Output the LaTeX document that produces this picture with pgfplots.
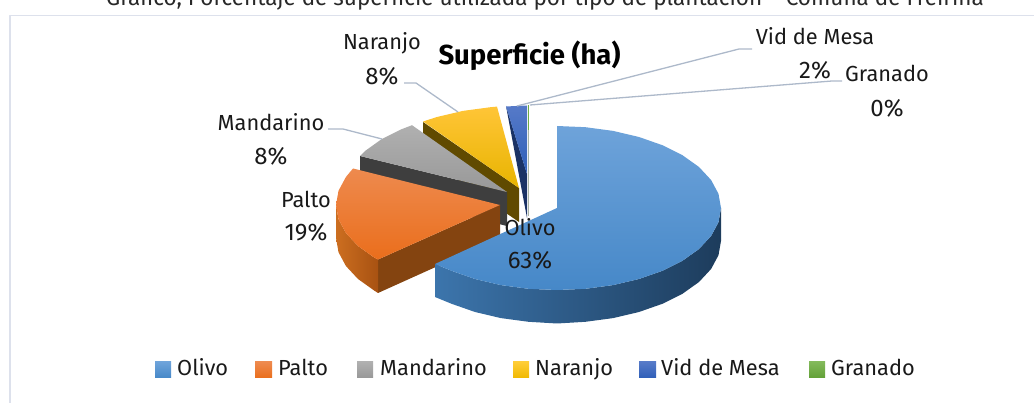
\documentclass[border=0pt]{standalone}
\usepackage{fontspec}
\setmainfont{Fira Sans}
\usepackage{pgfplots}
\pgfplotsset{compat=1.18}
\definecolor{lead}{HTML}{ADB9CA}
\definecolor{frame}{HTML}{DDE1EC}
\begin{document}
\begin{tikzpicture}
\begin{axis}[at={(0pt,0pt)},anchor=south west,scale only axis,width=1034pt,height=403pt,
 xmin=0,xmax=1034,ymin=0,ymax=403,y dir=reverse,axis lines=none,clip=false,
 every axis plot/.append style={mark=none,draw=none,line join=round}]
% frame
\addplot[draw=frame,line width=1.8pt] coordinates {(10,403)(10,15.5)(1034,15.5)};
% Granado
\addplot[draw={rgb,255:red,170;green,180;blue,165},line width=1pt] coordinates {(528,105)(528,216)};
\addplot[draw={rgb,255:red,112;green,173;blue,71},line width=.8pt] coordinates {(528,105)(528,130)};
% Vid de Mesa
\addplot[fill={rgb,255:red,26;green,50;blue,101}] coordinates {(506,106)(527,174)(527,218)(506,106)};
\addplot[top color={rgb,255:red,86;green,122;blue,200},bottom color={rgb,255:red,47;green,95;blue,184}] coordinates {(527,174)(506,106.5)(516,106)(527,105.5)(527,174)};
% Naranjo
\addplot[fill={rgb,255:red,96;green,74;blue,0}] coordinates {(423,122)(519,188)(519,222)(423,156)(423,122)};
\addplot[top color={rgb,255:red,255;green,197;blue,55},middle color={rgb,255:red,250;green,192;blue,0},bottom color={rgb,255:red,232;green,180;blue,0}] coordinates {(519,188)(423,121.5)(437,117)(462.9,110.9)(490.5,107.2)(497,106.6)(519,188)};
% Mandarino
\addplot[fill={rgb,255:red,62;green,62;blue,62}] coordinates {(360,156)(507,192)(507,226)(360,190)(360,156)};
\addplot[top color={rgb,255:red,176;green,176;blue,176},bottom color={rgb,255:red,152;green,152;blue,152}] coordinates {(507,192)(360,156)(365,151)(381.4,139.3)(401.6,129.2)(412,125.2)(507,192)};
% Palto
\addplot[fill={rgb,255:red,132;green,68;blue,16}] coordinates {(500,205)(378,259.5)(378,293)(500,238)(500,205)};
\addplot[left color={rgb,255:red,204;green,110;blue,32},right color={rgb,255:red,168;green,82;blue,18}] coordinates {(378,259.5)(374.4,257.7)(358,246)(345.9,233)(338.5,219.2)(336,205)(336,238)(338.5,252.2)(345.9,266)(358,279)(374.4,290.7)(378,293)(378,259.5)};
\addplot[top color={rgb,255:red,238;green,138;blue,78},bottom color={rgb,255:red,234;green,110;blue,28}] coordinates {(500,205)(378,259.5)(374.4,257.7)(358,246)(345.9,233)(338.5,219.2)(336,205)(338.5,190.8)(345.9,177)(353,168.5)(500,205)};
% Olivo
\addplot[left color={rgb,255:red,60;green,117;blue,172},middle color={rgb,255:red,36;green,74;blue,112},right color={rgb,255:red,29;green,60;blue,92}] coordinates {(721,208)(718.5,222.2)(711.1,236)(699,249)(682.6,260.7)(662.4,270.8)(639,279)(613.1,285.1)(585.5,288.8)(557,290)(528.5,288.8)(500.9,285.1)(475,279)(451.6,270.8)(435,264)(435,297)(451.6,303.8)(475,312)(500.9,318.1)(528.5,321.8)(557,323.5)(585.5,321.8)(613.1,318.1)(639,312)(662.4,303.8)(682.6,293.7)(699,282)(711.1,269)(718.5,255.2)(721,241)(721,208)};
\addplot[top color={rgb,255:red,110;green,163;blue,218},middle color={rgb,255:red,91;green,155;blue,213},bottom color={rgb,255:red,70;green,136;blue,200}] coordinates {(557,208)(557,126)(585.5,127.2)(613.1,130.9)(639,137)(662.4,145.2)(682.6,155.3)(699,167)(711.1,180)(718.5,193.8)(721,208)(718.5,222.2)(711.1,236)(699,249)(682.6,260.7)(662.4,270.8)(639,279)(613.1,285.1)(585.5,288.8)(557,290)(528.5,288.8)(500.9,285.1)(475,279)(451.6,270.8)(435,264)(557,208)};
% leader lines
\addplot[draw=lead,line width=1.3pt] coordinates {(404,83)(416,83)(458,112)};
\addplot[draw=lead,line width=1.3pt] coordinates {(328,129)(343,129)(382,139)};
\addplot[draw=lead,line width=1.3pt] coordinates {(752,49)(739,49)(517,106)};
\addplot[draw=lead,line width=1.3pt] coordinates {(842,81)(832,81)(530,105)};
% legend squares
\addplot[top color={rgb,255:red,110;green,163;blue,218},bottom color={rgb,255:red,70;green,136;blue,200}] coordinates {(155,362)(171,362)(171,378)(155,378)(155,362)};
\addplot[top color={rgb,255:red,238;green,138;blue,78},bottom color={rgb,255:red,234;green,110;blue,28}] coordinates {(255,362)(272,362)(272,378)(255,378)(255,362)};
\addplot[top color={rgb,255:red,176;green,176;blue,176},bottom color={rgb,255:red,152;green,152;blue,152}] coordinates {(357,362)(373,362)(373,378)(357,378)(357,362)};
\addplot[top color={rgb,255:red,255;green,205;blue,55},bottom color={rgb,255:red,240;green,185;blue,0}] coordinates {(513,362)(529,362)(529,378)(513,378)(513,362)};
\addplot[top color={rgb,255:red,86;green,122;blue,200},bottom color={rgb,255:red,47;green,95;blue,184}] coordinates {(639,362)(656,362)(656,378)(639,378)(639,362)};
\addplot[top color={rgb,255:red,130;green,185;blue,90},bottom color={rgb,255:red,98;green,160;blue,55}] coordinates {(809,362)(825,362)(825,378)(809,378)(809,362)};
% texts
\tikzset{t/.style={font=\fontsize{21.8}{24}\selectfont,text={rgb,255:red,25;green,25;blue,25},inner sep=0pt},
 p/.style={font=\fontsize{24}{26}\selectfont,text={rgb,255:red,25;green,25;blue,25},inner sep=0pt},
 l/.style={t,anchor=base west}}
\node[overlay,font=\fontsize{22.5}{24}\selectfont,anchor=base,inner sep=0pt,text={rgb,255:red,40;green,40;blue,40}] at (axis cs:545,6) {Gráfico, Porcentaje de superficie utilizada por tipo de plantación – Comuna de Freirina};
\node[font=\bfseries\fontsize{27.5}{30}\selectfont,inner sep=0pt] at (axis cs:529.5,56) {Superficie (ha)};
\node[t] at (axis cs:382,43) {Naranjo};
\node[p] at (axis cs:382,76) {8\%};
\node[t] at (axis cs:271,122) {Mandarino};
\node[p] at (axis cs:271,156) {8\%};
\node[t] at (axis cs:306,199) {Palto};
\node[p] at (axis cs:306,232) {19\%};
\node[t] at (axis cs:530,227) {Olivo};
\node[p] at (axis cs:530,260) {63\%};
\node[t] at (axis cs:815,36) {Vid de Mesa};
\node[p] at (axis cs:815,70) {2\%};
\node[t] at (axis cs:887,73) {Granado};
\node[p] at (axis cs:887,108) {0\%};
\node[l] at (axis cs:177,375.5) {Olivo};
\node[l] at (axis cs:278,375.5) {Palto};
\node[l] at (axis cs:380,375.5) {Mandarino};
\node[l] at (axis cs:535,375.5) {Naranjo};
\node[l] at (axis cs:661,375.5) {Vid de Mesa};
\node[l] at (axis cs:831,375.5) {Granado};
\end{axis}
\pgfresetboundingbox
\path[use as bounding box] (0pt,0pt) rectangle (1034pt,403pt);
\end{tikzpicture}
\end{document}
